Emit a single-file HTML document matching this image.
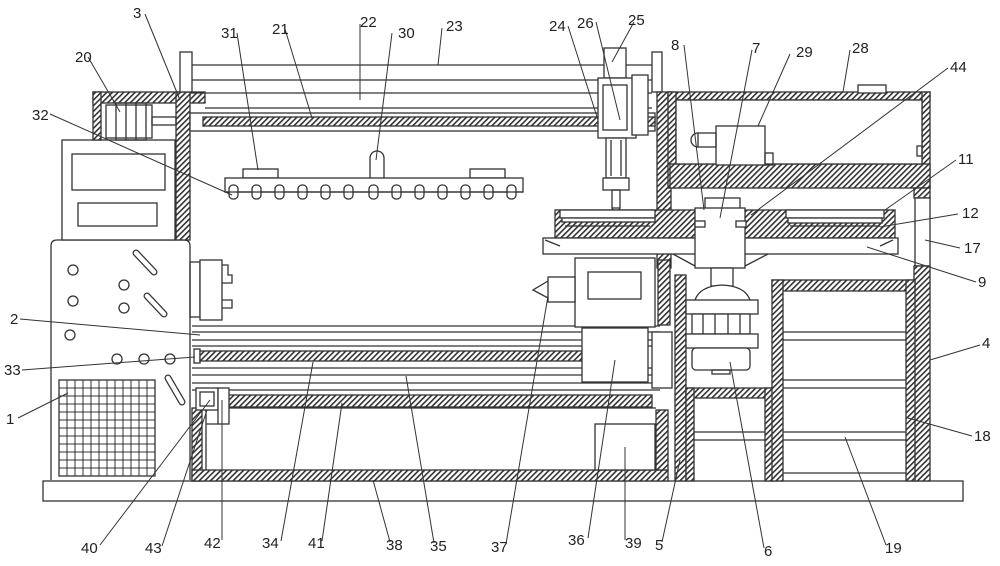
<!DOCTYPE html>
<html><head><meta charset="utf-8"><style>
html,body{margin:0;padding:0;background:#fff;width:1000px;height:566px;overflow:hidden}
svg{display:block}
text{font-family:"Liberation Sans",sans-serif;font-size:15px;fill:#222}
</style></head><body>
<svg width="1000" height="566" viewBox="0 0 1000 566" xmlns="http://www.w3.org/2000/svg">
<defs>
<pattern id="h" patternUnits="userSpaceOnUse" width="4" height="4" patternTransform="rotate(45)">
<rect width="4" height="4" fill="#fff"/><rect width="1.6" height="4" fill="#333"/></pattern>
</defs>
<g stroke="#333" stroke-width="1.3" fill="none">
<rect x="43" y="481" width="920" height="20" fill="#fff"/>
<path d="M51 480 V246 Q51 240 57 240 H184 Q190 240 190 246 V480" fill="#fff"/>
<rect x="59" y="380" width="96" height="96" fill="#fff"/>
<g stroke-width="1">
<path d="M67 380V476M75 380V476M83 380V476M91 380V476M99 380V476M107 380V476M115 380V476M123 380V476M131 380V476M139 380V476M147 380V476"/>
<path d="M59 388H155M59 396H155M59 404H155M59 412H155M59 420H155M59 428H155M59 436H155M59 444H155M59 452H155M59 460H155M59 468H155"/>
</g>
<circle cx="73" cy="270" r="5"/><circle cx="124" cy="285" r="5"/><circle cx="73" cy="301" r="5"/><circle cx="124" cy="308" r="5"/><circle cx="70" cy="335" r="5"/>
<circle cx="117" cy="359" r="5"/><circle cx="144" cy="359" r="5"/><circle cx="170" cy="359" r="5"/>
<g stroke-linecap="round">
<path d="M136 253 L154 272" stroke-width="7"/>
<path d="M147 296 L164 314" stroke-width="7"/>
<path d="M168 378 L182 402" stroke-width="7"/>
<path d="M136 253 L154 272" stroke-width="4.5" stroke="#fff"/>
<path d="M147 296 L164 314" stroke-width="4.5" stroke="#fff"/>
<path d="M168 378 L182 402" stroke-width="4.5" stroke="#fff"/>
</g>
<rect x="62" y="140" width="113" height="100" fill="#fff"/>
<rect x="72" y="154" width="93" height="36"/><rect x="78" y="203" width="79" height="23"/>
<rect x="93" y="92" width="112" height="11" fill="url(#h)"/>
<rect x="93" y="92" width="8" height="48" fill="url(#h)"/>
<rect x="176" y="92" width="14" height="148" fill="url(#h)"/>
<rect x="106" y="105" width="46" height="33" fill="#fff"/>
<rect x="116" y="103" width="30" height="37"/><path d="M126 103V140M136 103V140"/>
<rect x="152" y="117" width="24" height="8"/>
<rect x="180" y="52" width="12" height="40" fill="#fff"/>
<rect x="652" y="52" width="10" height="40" fill="#fff"/>
<path d="M192 65H652M192 80H652M192 93H652M205 108H652"/>
<rect x="190" y="113" width="465" height="18" fill="#fff"/>
<rect x="203" y="117" width="452" height="9" fill="url(#h)"/>
<rect x="243" y="169" width="35" height="9" fill="#fff"/>
<rect x="470" y="169" width="35" height="9" fill="#fff"/>
<path d="M370 178V158A7 7 0 0 1 384 158V178" fill="#fff"/>
<rect x="225" y="178" width="298" height="14" fill="#fff"/>
<g fill="#fff">
<rect x="229" y="185" width="9" height="14" rx="4"/><rect x="252" y="185" width="9" height="14" rx="4"/><rect x="275" y="185" width="9" height="14" rx="4"/><rect x="298" y="185" width="9" height="14" rx="4"/><rect x="321" y="185" width="9" height="14" rx="4"/><rect x="344" y="185" width="9" height="14" rx="4"/><rect x="369" y="185" width="9" height="14" rx="4"/><rect x="392" y="185" width="9" height="14" rx="4"/><rect x="415" y="185" width="9" height="14" rx="4"/><rect x="438" y="185" width="9" height="14" rx="4"/><rect x="461" y="185" width="9" height="14" rx="4"/><rect x="484" y="185" width="9" height="14" rx="4"/><rect x="507" y="185" width="9" height="14" rx="4"/>
</g>
<path d="M225 192H523"/>
<rect x="190" y="262" width="10" height="55"/>
<rect x="200" y="260" width="22" height="60" fill="#fff"/>
<path d="M222 265H228V275H232V283H222M222 300H232V308H222"/>
<path d="M192 326H660M192 332H660M192 340H660M192 346H660M192 368H660M192 375H660M192 383H660M192 390H660"/>
<rect x="194" y="349" width="6" height="14" fill="#fff"/>
<rect x="200" y="351" width="382" height="10" fill="url(#h)"/>
<rect x="228" y="395" width="424" height="12" fill="url(#h)"/>
<rect x="192" y="408" width="10" height="73" fill="url(#h)"/>
<rect x="192" y="470" width="476" height="11" fill="url(#h)"/>
<rect x="656" y="410" width="12" height="60" fill="url(#h)"/>
<path d="M202 408H656"/>
<rect x="196" y="388" width="22" height="22" fill="#fff"/><rect x="200" y="392" width="14" height="14"/>
<rect x="218" y="388" width="11" height="36" fill="#fff"/>
<path d="M206 410V470M206 424H218"/>
<rect x="595" y="424" width="60" height="46" fill="#fff"/>
<rect x="575" y="258" width="80" height="69" fill="#fff"/>
<rect x="588" y="272" width="53" height="27"/>
<rect x="548" y="277" width="27" height="25" fill="#fff"/>
<path d="M548 281L533 290L548 298"/>
<rect x="582" y="328" width="66" height="54" fill="#fff"/>
<rect x="652" y="332" width="20" height="56" fill="#fff"/>
<rect x="657" y="92" width="14" height="176" fill="url(#h)"/>
<rect x="658" y="260" width="12" height="65" fill="url(#h)"/>
<rect x="675" y="275" width="11" height="206" fill="url(#h)"/>
<rect x="668" y="92" width="262" height="8" fill="url(#h)"/>
<rect x="668" y="92" width="8" height="96" fill="url(#h)"/>
<rect x="922" y="92" width="8" height="96" fill="url(#h)"/>
<rect x="670" y="164" width="260" height="24" fill="url(#h)"/>
<rect x="676" y="100" width="246" height="64" fill="#fff"/>
<rect x="858" y="85" width="28" height="8" fill="#fff"/>
<rect x="917" y="146" width="5" height="10"/>
<rect x="716" y="126" width="49" height="39" fill="#fff"/>
<rect x="765" y="153" width="8" height="12"/>
<rect x="698" y="133" width="18" height="14"/>
<path d="M698 133A7 7 0 0 0 698 147"/>
<rect x="914" y="188" width="16" height="10" fill="url(#h)"/>
<rect x="915" y="198" width="15" height="68" fill="#fff"/>
<rect x="914" y="266" width="16" height="215" fill="url(#h)"/>
<rect x="604" y="48" width="22" height="30" fill="#fff"/>
<rect x="598" y="78" width="38" height="60" fill="#fff"/>
<rect x="603" y="85" width="24" height="45"/>
<rect x="632" y="75" width="16" height="60" fill="#fff"/>
<rect x="606" y="138" width="20" height="40" fill="#fff"/>
<path d="M611 140V176M621 140V176"/>
<rect x="603" y="178" width="26" height="12" fill="#fff"/>
<rect x="612" y="190" width="8" height="18"/>
<path d="M612 208L616 216L620 208"/>
<rect x="555" y="210" width="340" height="28" fill="url(#h)"/>
<rect x="560" y="210" width="95" height="8" fill="#fff"/>
<rect x="562" y="218" width="93" height="4" fill="#fff"/>
<rect x="786" y="210" width="98" height="8" fill="#fff"/>
<rect x="788" y="218" width="94" height="5" fill="#fff"/>
<path d="M565 226H650M790 226H880"/>
<rect x="543" y="238" width="355" height="16" fill="#fff"/>
<path d="M545 240L560 246M893 240L880 246"/>
<path d="M673 254L695 266M768 254L745 266"/>
<rect x="705" y="198" width="35" height="12" fill="#fff"/>
<rect x="695" y="208" width="50" height="60" fill="#fff"/>
<rect x="695" y="221" width="10" height="6" fill="#fff"/><rect x="736" y="221" width="10" height="6" fill="#fff"/>
<rect x="711" y="268" width="22" height="18" fill="#fff"/>
<path d="M695 300Q700 286 722 285Q745 286 750 300" fill="#fff"/>
<rect x="686" y="300" width="72" height="14" fill="#fff"/>
<rect x="692" y="314" width="58" height="20" fill="#fff"/>
<path d="M703 314V334M715 314V334M728 314V334M740 314V334"/>
<rect x="686" y="334" width="72" height="14" fill="#fff"/>
<rect x="692" y="348" width="58" height="22" rx="4" fill="#fff"/>
<rect x="712" y="370" width="18" height="4"/>
<rect x="686" y="388" width="86" height="10" fill="url(#h)"/>
<rect x="686" y="388" width="8" height="93" fill="url(#h)"/>
<rect x="765" y="388" width="8" height="93" fill="url(#h)"/>
<path d="M694 432H765M694 440H765"/>
<rect x="772" y="280" width="143" height="11" fill="url(#h)"/>
<rect x="772" y="280" width="11" height="201" fill="url(#h)"/>
<rect x="906" y="280" width="9" height="201" fill="url(#h)"/>
<path d="M783 332H906M783 340H906M783 380H906M783 388H906M783 432H906M783 440H906M783 473H906"/>
</g>
<g stroke="#333" stroke-width="1" fill="none">
<path d="M145 14L180 100M88 57L120 112M237 33L258 170M285 29L312 118M360 24L360 100M392 33L376 160M442 28L438 65M568 26L598 120M596 22L620 120M634 22L612 62M684 45L704 210M752 50L720 218M790 54L758 126M850 50L843 92M948 68L751 215M956 160L885 210M958 214L880 227M960 248L925 240M976 282L867 247M980 345L930 360M972 436L908 418M886 545L845 437M764 548L730 362M662 542L680 460M625 540L625 447M588 538L615 360M506 544L548 296M434 543L406 376M390 542L373 480M322 541L342 403M281 541L313 362M222 540L222 400M162 546L207 410M100 545L210 400M18 418L68 393M22 370L195 357M20 319L200 335M50 114L232 195"/>
</g>
<g>
<text x="133" y="18">3</text><text x="75" y="62">20</text><text x="221" y="38">31</text><text x="272" y="34">21</text><text x="360" y="27">22</text><text x="398" y="38">30</text><text x="446" y="31">23</text>
<text x="549" y="31">24</text><text x="577" y="28">26</text><text x="628" y="25">25</text><text x="671" y="50">8</text><text x="752" y="53">7</text><text x="796" y="57">29</text><text x="852" y="53">28</text><text x="950" y="72">44</text>
<text x="958" y="164">11</text><text x="962" y="218">12</text><text x="964" y="253">17</text><text x="978" y="287">9</text><text x="982" y="348">4</text><text x="974" y="441">18</text>
<text x="885" y="553">19</text><text x="764" y="556">6</text><text x="655" y="550">5</text><text x="625" y="548">39</text><text x="568" y="545">36</text><text x="491" y="552">37</text><text x="430" y="551">35</text><text x="386" y="550">38</text><text x="308" y="548">41</text><text x="262" y="548">34</text><text x="204" y="548">42</text><text x="145" y="553">43</text><text x="81" y="553">40</text>
<text x="6" y="424">1</text><text x="4" y="375">33</text><text x="10" y="324">2</text><text x="32" y="120">32</text>
</g>
</svg>
</body></html>
